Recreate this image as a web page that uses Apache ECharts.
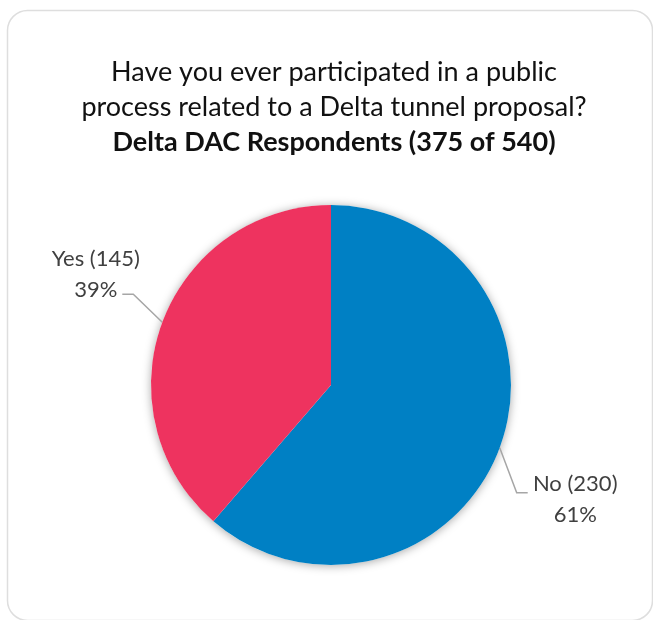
<!DOCTYPE html>
<html>
<head>
<meta charset="utf-8">
<script src="https://cdn.jsdelivr.net/npm/echarts@6/dist/echarts.min.js"></script>
<style>
  html, body { margin: 0; padding: 0; background: #ffffff; }
  #chart { width: 653px; height: 620px; }
</style>
</head>
<body>
<div id="chart"></div>
<script>
// Survey answers and respondent counts
const categories = ['No', 'Yes'];
const counts = [230, 145];
const sliceColors = ['#0080C4', '#EE335F'];

// Heading text
const titleLines = [
  'Have you ever participated in a public',
  'process related to a Delta tunnel proposal?'
];
const subtitle = 'Delta DAC Respondents (375 of 540)';

const total = counts.reduce((a, b) => a + b, 0);
const pieCenter = [331, 385];
const pieRadius = 180;

// Leader-line bends and label offsets, relative to the slice edge point
const guide = {
  left:  { turn: [-29, -28], end: [-40, -28], text: [-26.5, -20] },
  right: { turn: [17, 45],   end: [28, 45],   text: [47.5, 7] }
};

const chart = echarts.init(document.getElementById('chart'), null, { renderer: 'canvas' });

const labelFont = 'Lato, "Open Sans", sans-serif';

chart.setOption({
  animation: false,
  backgroundColor: '#ffffff',
  graphic: [{
    type: 'rect',
    silent: true,
    shape: { x: 7.5, y: 10.5, width: 645, height: 610, r: 20 },
    style: { fill: 'none', stroke: '#dedede', lineWidth: 1.5 },
    z: -10
  }],
  title: {
    text: '{t|' + titleLines[0] + '}\n{t|' + titleLines[1] + '}\n{b|' + subtitle + '}',
    left: 329,
    top: 50,
    textAlign: 'center',
    textStyle: {
      fontWeight: 'normal',
      rich: {
        t: { fontSize: 27, fontFamily: labelFont, fontWeight: 'normal', color: '#111111', lineHeight: 35, align: 'center' },
        b: { fontSize: 27, fontFamily: labelFont, fontWeight: 'bold', color: '#111111', lineHeight: 35, align: 'center' }
      }
    }
  },
  series: [
    {
      // soft drop shadow underneath the pie
      type: 'pie',
      silent: true,
      center: pieCenter,
      radius: pieRadius,
      startAngle: 90,
      label: { show: false },
      labelLine: { show: false },
      itemStyle: {
        color: '#ffffff',
        shadowBlur: 10,
        shadowColor: 'rgba(0,0,0,0.35)',
        shadowOffsetY: 1
      },
      data: [{ name: 'all', value: total }],
      z: 1
    },
    {
      type: 'pie',
      center: pieCenter,
      radius: pieRadius,
      startAngle: 90,
      clockwise: true,
      percentPrecision: 0,
      avoidLabelOverlap: false,
      data: categories.map((c, i) => ({
        name: c,
        value: counts[i],
        itemStyle: { color: sliceColors[i] }
      })),
      itemStyle: { borderWidth: 0 },
      label: {
        show: true,
        position: 'outside',
        formatter: '{t|{b} ({c})}\n{t|{d}%}',
        rich: {
          t: { fontSize: 22, fontFamily: labelFont, color: '#404040', lineHeight: 31, align: 'center' }
        }
      },
      labelLine: {
        show: true,
        length: 20,
        length2: 12,
        lineStyle: { color: '#A6A6A6', width: 1.5 }
      },
      labelLayout: function (p) {
        const pts = p.labelLinePoints;
        if (!pts) return {};
        const edge = pts[0];
        const g = edge[0] < pieCenter[0] ? guide.left : guide.right;
        const end = [edge[0] + g.end[0], edge[1] + g.end[1]];
        return {
          x: end[0] + g.text[0],
          y: end[1] + g.text[1],
          align: 'center',
          verticalAlign: 'middle',
          labelLinePoints: [
            [edge[0], edge[1]],
            [edge[0] + g.turn[0], edge[1] + g.turn[1]],
            end
          ]
        };
      },
      emphasis: { disabled: true },
      z: 2
    }
  ]
});
</script>
</body>
</html>
